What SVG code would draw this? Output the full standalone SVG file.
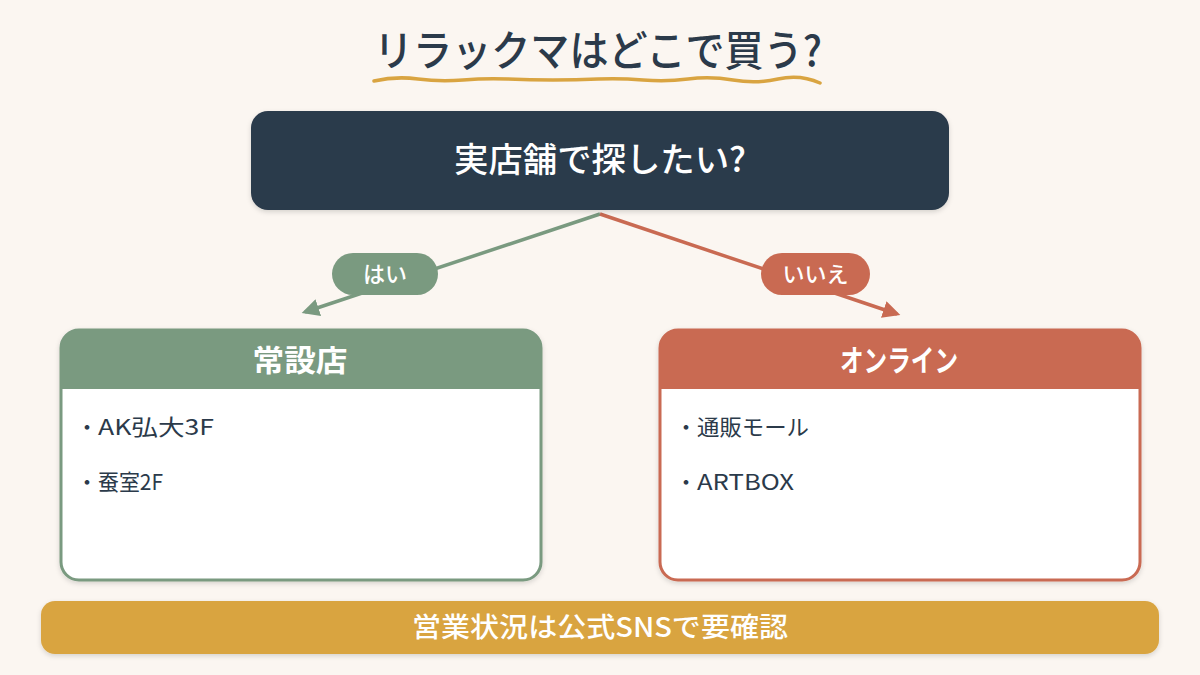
<svg xmlns="http://www.w3.org/2000/svg" width="1200" height="675" viewBox="0 0 1200 675">
<defs>
<filter id="sh" x="-10%" y="-10%" width="120%" height="130%"><feDropShadow dx="0" dy="2" stdDeviation="2.5" flood-color="#000" flood-opacity="0.15"/></filter>
<marker id="ag" viewBox="0 0 10 10" refX="8" refY="5" markerWidth="5" markerHeight="5" orient="auto"><path d="M0,0 L10,5 L0,10 z" fill="#7A9A80"/></marker>
<marker id="ar" viewBox="0 0 10 10" refX="8" refY="5" markerWidth="5" markerHeight="5" orient="auto"><path d="M0,0 L10,5 L0,10 z" fill="#C96A52"/></marker>
<style>
text{font-family:"Noto Sans CJK JP","Noto Sans",sans-serif}
.w{fill:#fff}
.d{fill:#2B3A4A}
.hd{font-size:30px;font-weight:bold;fill:#fff;text-anchor:middle}
.it{font-size:22px;fill:#2B3A4A}
.pill{font-size:22px;fill:#fff;text-anchor:middle;font-weight:500}
</style>
</defs>
<rect width="1200" height="675" fill="#FBF6F1"/>
<g id="title">
<text x="598" y="66" text-anchor="middle" font-size="42" font-weight="500" class="d" textLength="448" lengthAdjust="spacingAndGlyphs">リラックマはどこで買う?</text>
<path d="M374,81 Q396,76 418,79 T463,80 T508,79 T553,80 T598,79 T643,80 T688,79 T733,80 T778,79 T820,83" fill="none" stroke="#D9A441" stroke-width="3.5" stroke-linecap="round"/>
</g>
<g id="connectors">
<line x1="600" y1="214" x2="305" y2="312" stroke="#7A9A80" stroke-width="3.5" marker-end="url(#ag)"/>
<line x1="600" y1="214" x2="897" y2="314" stroke="#C96A52" stroke-width="3.5" marker-end="url(#ar)"/>
</g>
<g id="q">
<rect x="251" y="111" width="698" height="99" rx="17" fill="#2B3A4B" filter="url(#sh)"/>
<text x="600" y="172" text-anchor="middle" font-size="34" font-weight="500" class="w" textLength="292" lengthAdjust="spacingAndGlyphs">実店舗で探したい?</text>
</g>
<g id="yes">
<rect x="332" y="253" width="106" height="42" rx="21" fill="#7A9A80"/>
<text x="385" y="282" class="pill">はい</text>
</g>
<g id="no">
<rect x="761" y="253" width="109" height="42" rx="21" fill="#C96A52"/>
<text x="815.5" y="282" class="pill">いいえ</text>
</g>
<g id="store">
<rect x="61" y="330" width="480" height="250" rx="18" fill="#fff" stroke="#7A9A80" stroke-width="3" filter="url(#sh)"/>
<path d="M61,389 V348 A18,18 0 0 1 79,330 H523 A18,18 0 0 1 541,348 V389 Z" fill="#7A9A80"/>
<text x="300" y="371" class="hd" textLength="95" lengthAdjust="spacingAndGlyphs">常設店</text>
<text class="it" y="435"><tspan x="76">・</tspan><tspan x="98" textLength="116" lengthAdjust="spacingAndGlyphs">AK弘大3F</tspan></text>
<text class="it" y="490"><tspan x="76">・</tspan><tspan x="98" textLength="65" lengthAdjust="spacingAndGlyphs">蚕室2F</tspan></text>
</g>
<g id="online">
<rect x="660" y="330" width="480" height="250" rx="18" fill="#fff" stroke="#C96A52" stroke-width="3" filter="url(#sh)"/>
<path d="M660,389 V348 A18,18 0 0 1 678,330 H1122 A18,18 0 0 1 1140,348 V389 Z" fill="#C96A52"/>
<text x="899" y="371" class="hd" textLength="118" lengthAdjust="spacingAndGlyphs">オンライン</text>
<text class="it" y="435"><tspan x="675">・</tspan><tspan x="697" textLength="112" lengthAdjust="spacingAndGlyphs">通販モール</tspan></text>
<text class="it" y="490"><tspan x="675">・</tspan><tspan x="697" textLength="97" lengthAdjust="spacingAndGlyphs">ARTBOX</tspan></text>
</g>
<g id="footer">
<rect x="41" y="601" width="1118" height="53" rx="14" fill="#D9A441" filter="url(#sh)"/>
<text x="600" y="637" text-anchor="middle" font-size="27" font-weight="500" class="w" textLength="376" lengthAdjust="spacingAndGlyphs">営業状況は公式SNSで要確認</text>
</g>
</svg>
